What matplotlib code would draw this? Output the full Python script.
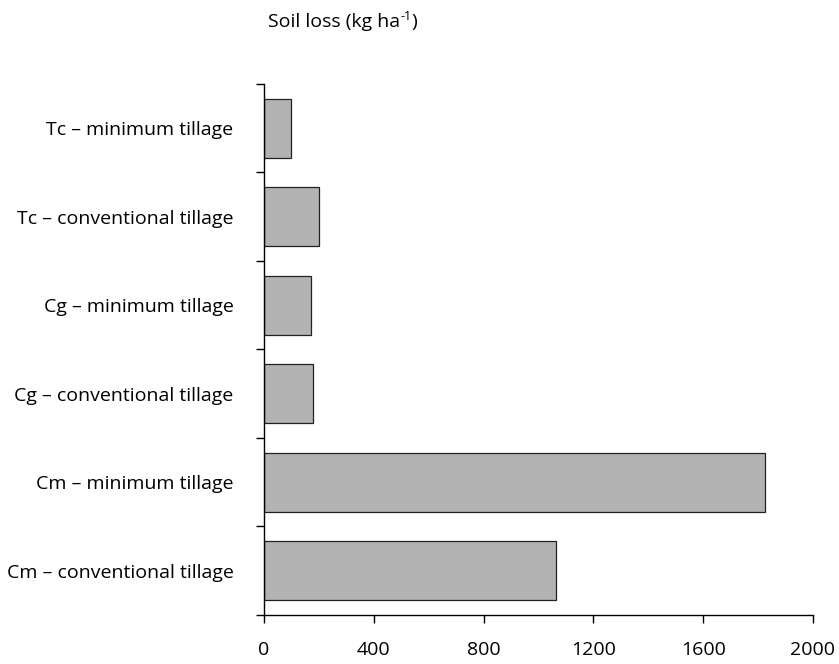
import numpy as np
import matplotlib.pyplot as plt
from matplotlib import transforms

plt.rcParams['font.family'] = ['Open Sans', 'DejaVu Sans']

categories = ['Cm – conventional tillage', 'Cm – minimum tillage',
              'Cg – conventional tillage', 'Cg – minimum tillage',
              'Tc – conventional tillage', 'Tc – minimum tillage']
soil_loss = [1065, 1825, 180, 170, 200, 100]
x_ticks = [0, 400, 800, 1200, 1600, 2000]

fig = plt.figure(figsize=(8.39, 6.64), dpi=100)
ax = fig.add_axes([0.3147, 0.0738, 0.969 - 0.3147, 0.8735 - 0.0738])

pos = np.arange(len(categories)) + 0.5
ax.barh(pos, soil_loss, height=0.67, color='#b3b3b3', edgecolor='#222222', linewidth=0.9)

ax.set_xlim(0, 2000)
ax.set_ylim(0, len(categories))
ax.set_xticks(x_ticks)
ax.set_xticklabels([str(v) for v in x_ticks], fontsize=14)

ax.set_yticks(np.arange(len(categories) + 1))
ax.set_yticklabels([])
ax.set_yticks(pos, minor=True)
ax.set_yticklabels(categories, minor=True, fontsize=14)
ax.tick_params(axis='y', which='minor', length=0, pad=22)
ax.tick_params(axis='y', which='major', length=6, width=1)
ax.tick_params(axis='x', length=6, width=1, pad=12.5)

for s in ['top', 'right']:
    ax.spines[s].set_visible(False)
for s in ['left', 'bottom']:
    ax.spines[s].set_linewidth(1)

# title with small hyphen superscript
fig.canvas.draw()
r = fig.canvas.get_renderer()
t1 = fig.text(268 / 839, 1 - 22 / 664, 'Soil loss (kg ha', ha='left', va='center', fontsize=14)
w = t1.get_window_extent(r).width
t2 = fig.text(0, 0, '-1', fontsize=9, ha='left', va='center',
              transform=transforms.offset_copy(t1.get_transform(), fig=fig, x=w, y=5, units='dots'))
t2.set_position(t1.get_position())
w2 = t2.get_window_extent(r).width
t3 = fig.text(0, 0, ')', fontsize=14, ha='left', va='center',
              transform=transforms.offset_copy(t1.get_transform(), fig=fig, x=w + w2, y=0, units='dots'))
t3.set_position(t1.get_position())

fig.savefig('out.png', dpi=100)
